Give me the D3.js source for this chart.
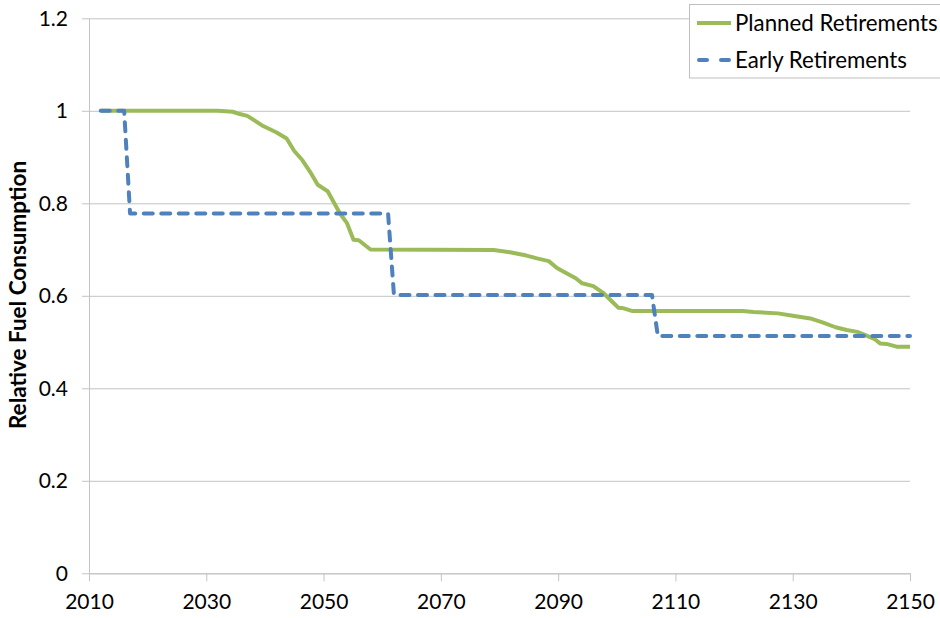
<!DOCTYPE html>
<html>
<head>
<meta charset="utf-8">
<script src="https://cdn.jsdelivr.net/npm/d3@7"></script>
<style>
  html, body { margin: 0; padding: 0; background: #fff; }
  svg { display: block; }
  text { font-family: Lato, "Open Sans", sans-serif; fill: #000; }
</style>
</head>
<body>
<svg id="chart" width="940" height="618"></svg>
<script>
// ---- Data ----
const xTicks = [2010, 2030, 2050, 2070, 2090, 2110, 2130, 2150];
const yTicks = [0, 0.2, 0.4, 0.6, 0.8, 1, 1.2];
const seriesNames = ["Planned Retirements", "Early Retirements"];

const plannedYears = [2012, 2032, 2034.5, 2035.7, 2037, 2039.7, 2042, 2043.7, 2045, 2046.4, 2047.7, 2049, 2050.7, 2052.8, 2054, 2055.1, 2056, 2058,
  2079, 2081.8, 2084.6, 2086.4, 2088.4, 2089.8, 2091.5, 2093, 2094.1, 2096, 2097.8, 2099.4, 2100.3, 2101.2, 2102.7,
  2121.5, 2123.3, 2127.5, 2130, 2133, 2135.2, 2137.3, 2139.2, 2141, 2142.6, 2144, 2144.9, 2146, 2147.7, 2150];
const plannedValues = [1.0, 1.0, 0.998, 0.993, 0.989, 0.967, 0.953, 0.940, 0.913, 0.893, 0.868, 0.840, 0.826, 0.778, 0.757, 0.721, 0.720, 0.700,
  0.699, 0.694, 0.687, 0.681, 0.675, 0.660, 0.648, 0.638, 0.627, 0.621, 0.605, 0.585, 0.574, 0.573, 0.567,
  0.567, 0.565, 0.562, 0.557, 0.551, 0.542, 0.532, 0.526, 0.522, 0.514, 0.506, 0.497, 0.496, 0.490, 0.490];

const earlyYears = [2012, 2016, 2017, 2061, 2062, 2106, 2107, 2150];
const earlyValues = [1.0, 1.0, 0.778, 0.778, 0.602, 0.602, 0.513, 0.513];

// ---- Layout ----
const svg = d3.select("#chart");
const x = d3.scaleLinear().domain([2010, 2150]).range([89, 910]);
const y = d3.scaleLinear().domain([0, 1.2]).range([573.3, 18.3]);

const gridColor = "#c4c4c4";

// horizontal gridlines + y ticks
const yAxis = d3.axisLeft(y).tickValues(yTicks).tickSize(-(910 - 89)).tickSizeOuter(0)
  .tickPadding(14).tickFormat(d => d3.format("")(+d.toFixed(1)));
const gy = svg.append("g").attr("transform", "translate(89,0)").call(yAxis);
gy.select(".domain").attr("stroke", gridColor);
gy.selectAll(".tick line").attr("stroke", gridColor).attr("x1", -7);
gy.selectAll(".tick text").attr("font-size", 21).attr("font-family", "Lato").attr("fill", "#000").attr("x", -21);

// x axis
const xAxis = d3.axisBottom(x).tickValues(xTicks).tickSize(8).tickSizeOuter(0).tickPadding(13).tickFormat(d3.format("d"));
const gx = svg.append("g").attr("transform", "translate(0,573.3)").call(xAxis);
gx.select(".domain").attr("stroke", gridColor);
gx.selectAll(".tick line").attr("stroke", gridColor);
gx.selectAll(".tick text").attr("font-size", 21).attr("font-family", "Lato").attr("fill", "#000");

// y axis title
svg.append("text")
  .attr("transform", "translate(26,295) rotate(-90)")
  .attr("text-anchor", "middle")
  .attr("font-size", 22.5).attr("font-weight", "bold")
  .text("Relative Fuel Consumption");

// ---- Lines ----
const line = d3.line().x(d => x(d[0])).y(d => y(d[1]));
const planned = plannedYears.map((yr, i) => [yr, plannedValues[i]]);
const early = earlyYears.map((yr, i) => [yr, earlyValues[i]]);

svg.append("path").datum(planned)
  .attr("d", line).attr("fill", "none")
  .attr("stroke", "#9BBB59").attr("stroke-width", 4).attr("stroke-linejoin", "round");

svg.append("path").datum(early)
  .attr("d", line).attr("fill", "none")
  .attr("stroke", "#4F81BD").attr("stroke-width", 4)
  .attr("stroke-dasharray", "9,8.5").attr("stroke-linecap", "round").attr("stroke-linejoin", "round");

// ---- Legend ----
const lg = svg.append("g");
lg.append("rect").attr("x", 689.5).attr("y", 4.5).attr("width", 270).attr("height", 73.5)
  .attr("fill", "#fff").attr("stroke", "#bfbfbf");
const legendItems = [
  { name: seriesNames[0], color: "#9BBB59", dash: null, y: 23 },
  { name: seriesNames[1], color: "#4F81BD", dash: "8,14", y: 60 }
];
legendItems.forEach(it => {
  const l = lg.append("line").attr("x1", it.dash ? 699 : 697).attr("x2", it.dash ? 729 : 731)
    .attr("y1", it.y).attr("y2", it.y)
    .attr("stroke", it.color).attr("stroke-width", 4);
  if (it.dash) l.attr("stroke-dasharray", it.dash).attr("stroke-linecap", "round");
  lg.append("text").attr("x", 735).attr("y", it.y + 7.5)
    .attr("font-size", 22.3).text(it.name);
});
</script>
</body>
</html>
